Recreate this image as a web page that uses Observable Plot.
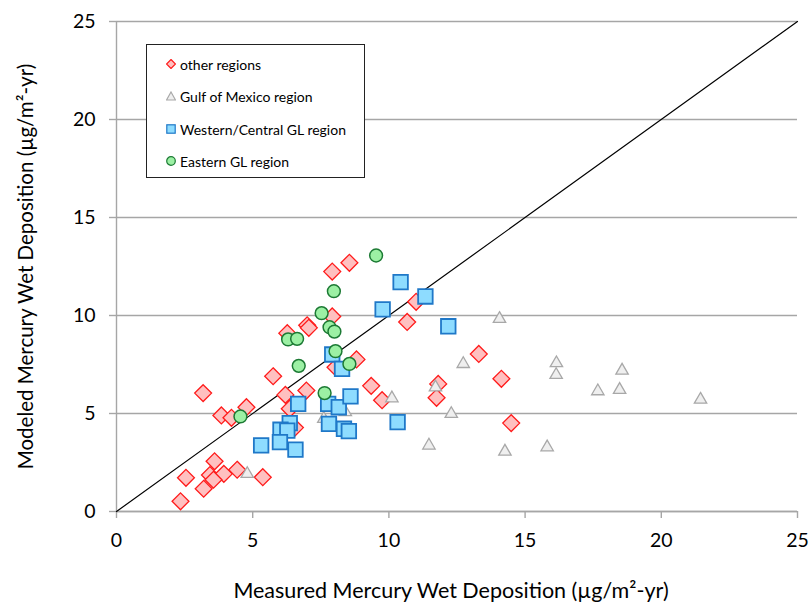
<!DOCTYPE html>
<html>
<head>
<meta charset="utf-8">
<script src="https://cdn.jsdelivr.net/npm/d3@7"></script>
<script src="https://cdn.jsdelivr.net/npm/@observablehq/plot@0.6"></script>
<style>
  html, body { margin: 0; padding: 0; background: #fff; }
  #wrap { position: relative; width: 809px; height: 605px; font-family: Lato, "Open Sans", sans-serif; }
  #legend { position: absolute; left: 146px; top: 44px; width: 219px; height: 134px; border: 1px solid #222; background: #fff; box-sizing: border-box; font-size: 14px; color: #000; }
  #legend .row { position: absolute; left: 19px; height: 16px; display: flex; align-items: center; }
  #legend svg { margin-right: 4px; }
</style>
</head>
<body>
<div id="wrap"><div id="chart"></div><div id="legend"></div></div>
<script>
// ---- data (measured x, modeled y) ----
const otherX = [8.55, 7.92, 7.92, 7.0, 7.06, 6.27, 8.81, 8.04, 5.75, 3.18, 9.35, 9.75, 6.2, 6.97, 4.77, 3.85, 4.22, 6.36, 6.55, 3.6, 2.55, 3.43, 3.94, 4.43, 3.56, 3.2, 5.37, 2.35, 10.67, 11.0, 13.3, 14.13, 11.81, 11.75, 14.49];
const otherY = [12.69, 12.24, 9.95, 9.5, 9.37, 9.1, 7.76, 7.36, 6.9, 6.04, 6.41, 5.68, 5.95, 6.17, 5.32, 4.9, 4.78, 5.24, 4.28, 2.56, 1.72, 1.86, 1.92, 2.13, 1.62, 1.16, 1.75, 0.52, 9.67, 10.7, 8.04, 6.77, 6.51, 5.8, 4.51];
const gulfX = [14.06, 12.73, 16.15, 16.14, 18.56, 11.71, 17.67, 18.47, 21.44, 10.11, 12.29, 11.47, 14.26, 15.81, 4.8, 7.61, 8.4];
const gulfY = [9.83, 7.53, 7.57, 6.97, 7.19, 6.34, 6.14, 6.21, 5.71, 5.78, 4.98, 3.37, 3.06, 3.28, 1.92, 4.73, 5.07];
const wcX = [10.43, 11.34, 9.77, 12.18, 7.92, 8.28, 6.67, 7.77, 8.16, 8.59, 10.32, 6.36, 6.02, 6.27, 7.8, 8.35, 8.53, 5.31, 6.0, 6.57];
const wcY = [11.7, 10.97, 10.31, 9.45, 8.01, 7.28, 5.49, 5.49, 5.32, 5.87, 4.56, 4.51, 4.17, 4.13, 4.47, 4.22, 4.1, 3.37, 3.54, 3.16];
const eastX = [9.53, 7.98, 7.53, 7.82, 8.0, 6.3, 6.63, 8.04, 8.55, 6.69, 7.64, 4.55];
const eastY = [13.06, 11.24, 10.12, 9.4, 9.18, 8.78, 8.81, 8.18, 7.53, 7.43, 6.04, 4.85];
const seriesNames = ["other regions", "Gulf of Mexico region", "Western/Central GL region", "Eastern GL region"];
const ticks = [0, 5, 10, 15, 20, 25];
const diag = [0, 25];

const toRows = (xs, ys) => xs.map((x, i) => ({x, y: ys[i]}));
const other = toRows(otherX, otherY);
const gulf = toRows(gulfX, gulfY);
const wc = toRows(wcX, wcY);
const east = toRows(eastX, eastY);
const diagRows = diag.map(v => ({x: v, y: v}));

const styles = [
  {symbol: "diamond2", r: 7.6, fill: "#ffc0c0", stroke: "#ff1a1a", sw: 1.3},
  {symbol: "triangle", r: 4.6, fill: "#efefef", stroke: "#a8a8a8", sw: 1.3},
  {symbol: "square", r: 8.2, fill: "#8edcff", stroke: "#1f78c8", sw: 1.8},
  {symbol: "circle", r: 6.4, fill: "#9cf0a4", stroke: "#1c7a34", sw: 1.5}
];
const datasets = [other, gulf, wc, east];

const chart = Plot.plot({
  width: 809,
  height: 605,
  marginLeft: 116,
  marginRight: 12,
  marginTop: 21,
  marginBottom: 94,
  style: {fontFamily: "Lato, 'Open Sans', sans-serif", fontSize: "19.5px", color: "#000", background: "#fff"},
  x: {domain: [0, 25]},
  y: {domain: [0, 25]},
  marks: [
    Plot.gridY(ticks, {stroke: "#a6a6a6", strokeOpacity: 1, strokeWidth: 1.4}),
    Plot.ruleX([0], {stroke: "#a6a6a6", strokeWidth: 1.4}),
    Plot.ruleY([0], {stroke: "#a6a6a6", strokeWidth: 1.4}),
    Plot.axisX({ticks, tickSize: 7, tickPadding: 15, stroke: "#a6a6a6", strokeWidth: 1.4,
      label: "Measured Mercury Wet Deposition (µg/m²-yr)", labelAnchor: "center", labelArrow: "none", labelOffset: 86}),
    Plot.axisY({ticks, tickSize: 7, tickPadding: 14, stroke: "#a6a6a6", strokeWidth: 1.4,
      label: "Modeled Mercury Wet Deposition (µg/m²-yr)", labelAnchor: "center", labelArrow: "none", labelOffset: 98}),
    Plot.line(diagRows, {x: "x", y: "y", stroke: "#000", strokeWidth: 1.2}),
    ...datasets.map((d, i) => Plot.dot(d, {x: "x", y: "y", symbol: styles[i].symbol, r: styles[i].r,
      fill: styles[i].fill, stroke: styles[i].stroke, strokeWidth: styles[i].sw, fillOpacity: 1}))
  ]
});
document.getElementById("chart").appendChild(chart);
// x-axis title: slightly larger and a bit left of centre, as in the reference
d3.select(chart).selectAll('g[aria-label="x-axis label"] text').attr("dx", -6).style("font-size", "21.5px");
d3.select(chart).selectAll('g[aria-label="y-axis label"] text').style("font-size", "20.5px");

// legend
const legend = document.getElementById("legend");
const rowTops = [11, 43, 76, 108];
const legendSym = {
  "diamond2": '<path d="M5,0.5 L9.5,5 L5,9.5 L0.5,5 Z" />',
  "triangle": '<path d="M5,1 L9.5,9 L0.5,9 Z" />',
  "square": '<rect x="0.8" y="0.8" width="8.4" height="8.4" />',
  "circle": '<circle cx="5" cy="5" r="4.3" />'
};
seriesNames.forEach((name, i) => {
  const s = styles[i];
  const row = document.createElement("div");
  row.className = "row";
  row.style.top = rowTops[i] + "px";
  row.innerHTML = `<svg width="10" height="10" viewBox="0 0 10 10"><g fill="${s.fill}" stroke="${s.stroke}" stroke-width="1.2">${legendSym[s.symbol]}</g></svg><span>${name}</span>`;
  legend.appendChild(row);
});
</script>
</body>
</html>
